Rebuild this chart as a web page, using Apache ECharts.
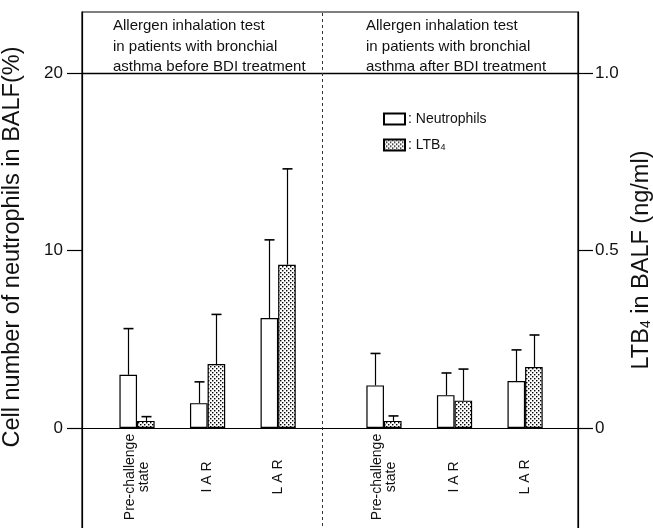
<!DOCTYPE html>
<html>
<head>
<meta charset="utf-8">
<script src="https://cdn.jsdelivr.net/npm/echarts@6/dist/echarts.min.js"></script>
<style>
  html, body { margin: 0; padding: 0; background: #fff; }
  #main { width: 653px; height: 528px; }
</style>
</head>
<body>
<div id="main"></div>
<script>
// groups inside each panel
var categories = ['Pre-challenge\nstate', 'I A R', 'L A R'];
var panelTitles = [
  'Allergen inhalation test\nin patients with bronchial\nasthma before BDI treatment',
  'Allergen inhalation test\nin patients with bronchial\nasthma after BDI treatment'
];
// neutrophils (%) : before BDI (3 groups) then after BDI (3 groups)
var neutroMean = [3.0, 1.4, 6.2, 2.4, 1.85, 2.65];
var neutroSD   = [2.6, 1.2, 4.4, 1.8, 1.25, 1.75];
// LTB4 (ng/ml)
var ltbMean = [0.02, 0.18, 0.46, 0.02, 0.077, 0.172];
var ltbSD   = [0.012, 0.14, 0.27, 0.014, 0.089, 0.09];
// tick labels
var leftTicks = [0, 10, 20];
var rightTicks = [0, 0.5, 1.0];
var rightTickLabels = ['0', '0.5', '1.0'];

var FONT = "'Liberation Sans', Arial, Helvetica, sans-serif";

// x position of group i in panel p (second panel shifted, leaving a wider gap)
var xPos = [];
for (var p = 0; p < 2; p++) {
  for (var i = 0; i < categories.length; i++) xPos.push(1 + i + p * 3.5);
}
var labelOf = {};
xPos.forEach(function (v, k) { labelOf[v] = categories[k % 3]; });

var neutroData = [], ltbData = [], neutroErr = [], ltbErr = [];
for (var k = 0; k < xPos.length; k++) {
  neutroData.push([xPos[k], neutroMean[k]]);
  ltbData.push([xPos[k], ltbMean[k]]);
  neutroErr.push([xPos[k], neutroMean[k], neutroMean[k] + neutroSD[k]]);
  ltbErr.push([xPos[k], ltbMean[k], ltbMean[k] + ltbSD[k]]);
}

// dotted fill for LTB4
var pat = document.createElement('canvas');
pat.width = 4; pat.height = 4;
var pc = pat.getContext('2d');
pc.fillStyle = '#fff'; pc.fillRect(0, 0, 4, 4);
pc.fillStyle = '#000';
pc.fillRect(0, 0, 1.4, 1.4);
pc.fillRect(2, 2, 1.4, 1.4);

var BAR_W = 17.6;

function errRender(offset) {
  return function (params, api) {
    var x = api.value(0);
    var p0 = api.coord([x, api.value(1)]);
    var p1 = api.coord([x, api.value(2)]);
    var cx = Math.round(p0[0] + offset) + 0.5;
    return {
      type: 'group',
      children: [
        { type: 'line', shape: { x1: cx, y1: p0[1], x2: cx, y2: p1[1] }, style: { stroke: '#000', lineWidth: 1.2 } },
        { type: 'line', shape: { x1: cx - 5, y1: p1[1], x2: cx + 5, y2: p1[1] }, style: { stroke: '#000', lineWidth: 1.6 } }
      ]
    };
  };
}

var myChart = echarts.init(document.getElementById('main'));

var option = {
  animation: false,
  backgroundColor: '#fff',
  textStyle: { fontFamily: FONT, color: '#111' },
  title: [
    { text: panelTitles[0], left: 108, top: 11,
      textStyle: { fontFamily: FONT, fontSize: 15, fontWeight: 'normal', lineHeight: 20.5, color: '#111' } },
    { text: panelTitles[1], left: 361, top: 11,
      textStyle: { fontFamily: FONT, fontSize: 15, fontWeight: 'normal', lineHeight: 20.5, color: '#111' } }
  ],
  legend: {
    orient: 'vertical',
    left: 378, top: 107,
    itemWidth: 21, itemHeight: 11, itemGap: 12,
    icon: 'rect',
    data: ['Neutrophils', 'LTB4'],
    formatter: function (name) {
      return name === 'LTB4' ? ': LTB{s|4}' : ': ' + name;
    },
    textStyle: {
      fontFamily: FONT, fontSize: 14, color: '#111', padding: [0, 0, 0, -2],
      rich: { s: { fontSize: 9, fontFamily: FONT, verticalAlign: 'bottom' } }
    }
  },
  grid: {
    left: 82, top: 12, width: 496, height: 520,
    outerBoundsMode: 'none', containLabel: false,
    show: true, borderColor: '#000', borderWidth: 1.2, backgroundColor: 'transparent'
  },
  xAxis: {
    type: 'value',
    min: 0.22, max: 7.25,
    offset: -104,
    axisLine: { onZero: false, lineStyle: { color: '#000', width: 1.2 } },
    axisTick: { show: false },
    splitLine: { show: false },
    axisLabel: {
      customValues: xPos,
      formatter: function (v) { return labelOf[v] || ''; },
      rotate: 90, align: 'center', verticalAlign: 'middle',
      margin: 49, fontSize: 14, lineHeight: 14, fontFamily: FONT, color: '#111'
    }
  },
  yAxis: [
    {
      type: 'value',
      min: -5.859, max: 23.437,
      name: 'Cell number of neutrophils in BALF(%)',
      nameLocation: 'middle', nameRotate: 90, nameGap: 57,
      nameTextStyle: { fontFamily: FONT, fontSize: 23.5, color: '#111', padding: [0, 0, 0, 50] },
      axisLine: { show: true, lineStyle: { color: '#000', width: 1.2 } },
      axisTick: { show: true, customValues: leftTicks, length: 15, lineStyle: { color: '#000', width: 1.2 } },
      axisLabel: { customValues: leftTicks, margin: 19, fontSize: 17, fontFamily: FONT, color: '#111' },
      splitLine: { show: false }
    },
    {
      type: 'value',
      min: -0.29295, max: 1.17185,
      name: 'LTB{s|4} in BALF (ng/ml)',
      nameLocation: 'middle', nameRotate: 90, nameGap: 46,
      nameTextStyle: { fontFamily: FONT, fontSize: 23.5, color: '#111', padding: [0, 0, 0, 24],
        rich: { s: { fontSize: 14, fontFamily: FONT, verticalAlign: 'bottom' } } },
      axisLine: { show: true, lineStyle: { color: '#000', width: 1.2 } },
      axisTick: { show: true, customValues: rightTicks, length: 15, lineStyle: { color: '#000', width: 1.2 } },
      axisLabel: {
        customValues: rightTicks, margin: 17, fontSize: 17, fontFamily: FONT, color: '#111',
        formatter: function (v) { return rightTickLabels[rightTicks.indexOf(v)]; }
      },
      splitLine: { show: false }
    }
  ],
  series: [
    {
      name: 'Neutrophils', type: 'bar', xAxisIndex: 0, yAxisIndex: 0,
      barWidth: BAR_W, barGap: '0%',
      data: neutroData,
      itemStyle: { color: '#fff', borderColor: '#000', borderWidth: 1.2 },
      markLine: {
        silent: true, symbol: 'none', label: { show: false },
        data: [
          { yAxis: 20, lineStyle: { type: 'solid', color: '#000', width: 1.3 } },
          { xAxis: 3.75, lineStyle: { type: [3, 3], color: '#333', width: 1 } }
        ]
      }
    },
    {
      name: 'LTB4', type: 'bar', xAxisIndex: 0, yAxisIndex: 1,
      barWidth: BAR_W, barGap: '0%',
      data: ltbData,
      itemStyle: { color: { image: pat, repeat: 'repeat' }, borderColor: '#000', borderWidth: 1.2 }
    },
    {
      type: 'custom', xAxisIndex: 0, yAxisIndex: 0, z: 3,
      renderItem: errRender(-BAR_W / 2), data: neutroErr
    },
    {
      type: 'custom', xAxisIndex: 0, yAxisIndex: 1, z: 3,
      renderItem: errRender(BAR_W / 2), data: ltbErr
    }
  ]
};
myChart.setOption(option);
</script>
</body>
</html>
